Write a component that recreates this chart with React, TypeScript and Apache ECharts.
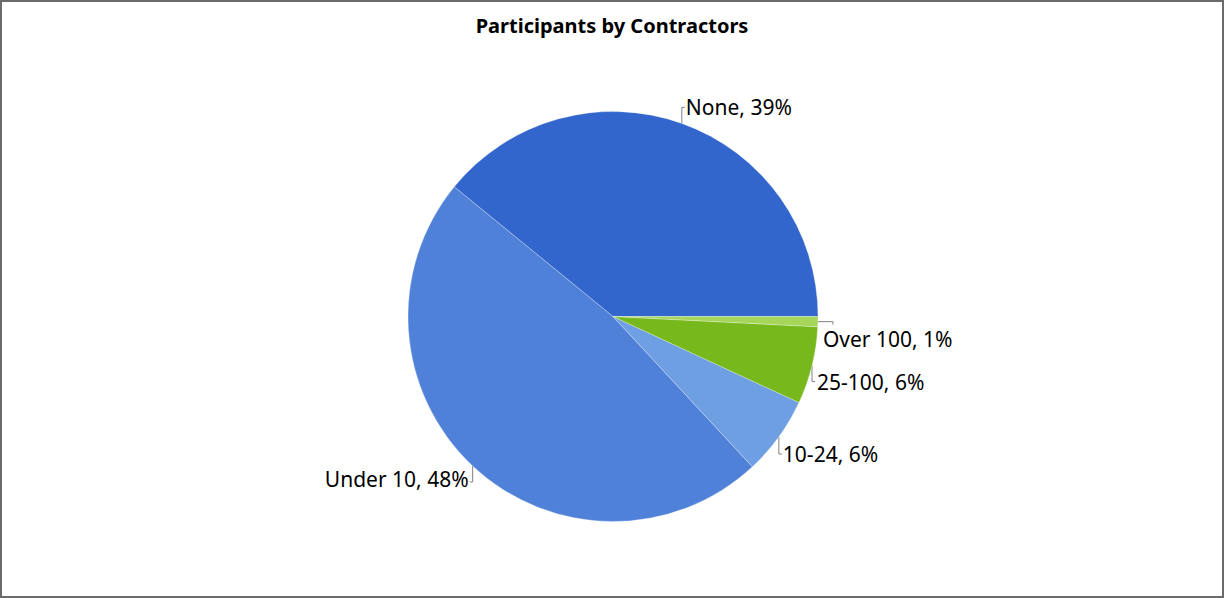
import React, { useEffect, useRef } from "react";
import * as echarts from "echarts";

const TITLE = "Participants by Contractors";
const categories = ["None", "Under 10", "10-24", "25-100", "Over 100"];
const values = [39.1, 47.8, 6.2, 6.1, 0.8];
const colors = ["#3366CC", "#4F81D9", "#6F9FE3", "#77B81C", "#A5D65A"];

// Leader-line / label placement per slice, relative to the slice's edge point
// [line dx, line dy, tick dx, tick dy, label dx, label dy, align]
const labelPlacement: [number, number, number, number, number, number, string][] = [
  [0, -16, 3, 0, 4, -16, "left"],
  [0, 16, -3, 0, -4, 13, "right"],
  [0, 17, 3, 0, 4, 17, "left"],
  [0, 16, 3, 0, 5, 16, "left"],
  [15, 0, 0, 3, 5, 17, "left"],
];

const W = 1224;
const H = 598;
const CX = 613;
const CY = 316.5;
const R = 205;

export default function App() {
  const ref = useRef<HTMLDivElement>(null);

  useEffect(() => {
    if (!ref.current) return;
    const chart = echarts.init(ref.current, undefined, { renderer: "svg" });
    const total = values.reduce((a, b) => a + b, 0);
    const midAngles: number[] = [];
    let acc = 0;
    values.forEach((v) => {
      const a = ((acc + v / 2) / total) * Math.PI * 2;
      midAngles.push(a);
      acc += v;
    });

    chart.setOption({
      animation: false,
      backgroundColor: "#ffffff",
      title: {
        text: TITLE,
        left: "center",
        top: 10,
        textStyle: {
          fontFamily: "Noto Sans",
          fontWeight: "bold",
          fontSize: 20,
          color: "#000000",
        },
      },
      graphic: [
        {
          type: "rect",
          shape: { x: 1, y: 1, width: W - 2, height: H - 2 },
          style: { fill: "none", stroke: "#6b6b6b", lineWidth: 2 },
          silent: true,
          z: 100,
        },
      ],
      series: [
        {
          type: "pie",
          center: [CX, CY],
          radius: R,
          startAngle: 0,
          clockwise: false,
          percentPrecision: 0,
          data: categories.map((c, i) => ({
            name: c,
            value: values[i],
            itemStyle: { color: colors[i] },
          })),
          itemStyle: {
            borderColor: "rgba(255,255,255,0.45)",
            borderWidth: 0.6,
          },
          label: {
            show: true,
            position: "outside",
            formatter: "{b}, {d}%",
            fontFamily: "Noto Sans",
            fontSize: 21,
            color: "#000000",
          },
          labelLine: {
            show: true,
            length: 10,
            length2: 10,
            lineStyle: { color: "#808080", width: 1 },
          },
          emphasis: { disabled: true },
          labelLayout: (params: any) => {
            const i = params.dataIndex;
            const p = labelPlacement[i];
            let ex: number;
            let ey: number;
            if (params.labelLinePoints && params.labelLinePoints[0]) {
              ex = params.labelLinePoints[0][0];
              ey = params.labelLinePoints[0][1];
            } else {
              ex = CX + R * Math.cos(midAngles[i]);
              ey = CY - R * Math.sin(midAngles[i]);
            }
            const bx = ex + p[0];
            const by = ey + p[1];
            return {
              x: ex + p[4],
              y: ey + p[5],
              align: p[6],
              verticalAlign: "middle",
              labelLinePoints: [
                [ex, ey],
                [bx, by],
                [bx + p[2], by + p[3]],
              ],
            };
          },
        },
      ],
    });
    return () => chart.dispose();
  }, []);

  return (
    <div
      ref={ref}
      style={{ position: "fixed", left: 0, top: 0, width: W, height: H }}
    />
  );
}
